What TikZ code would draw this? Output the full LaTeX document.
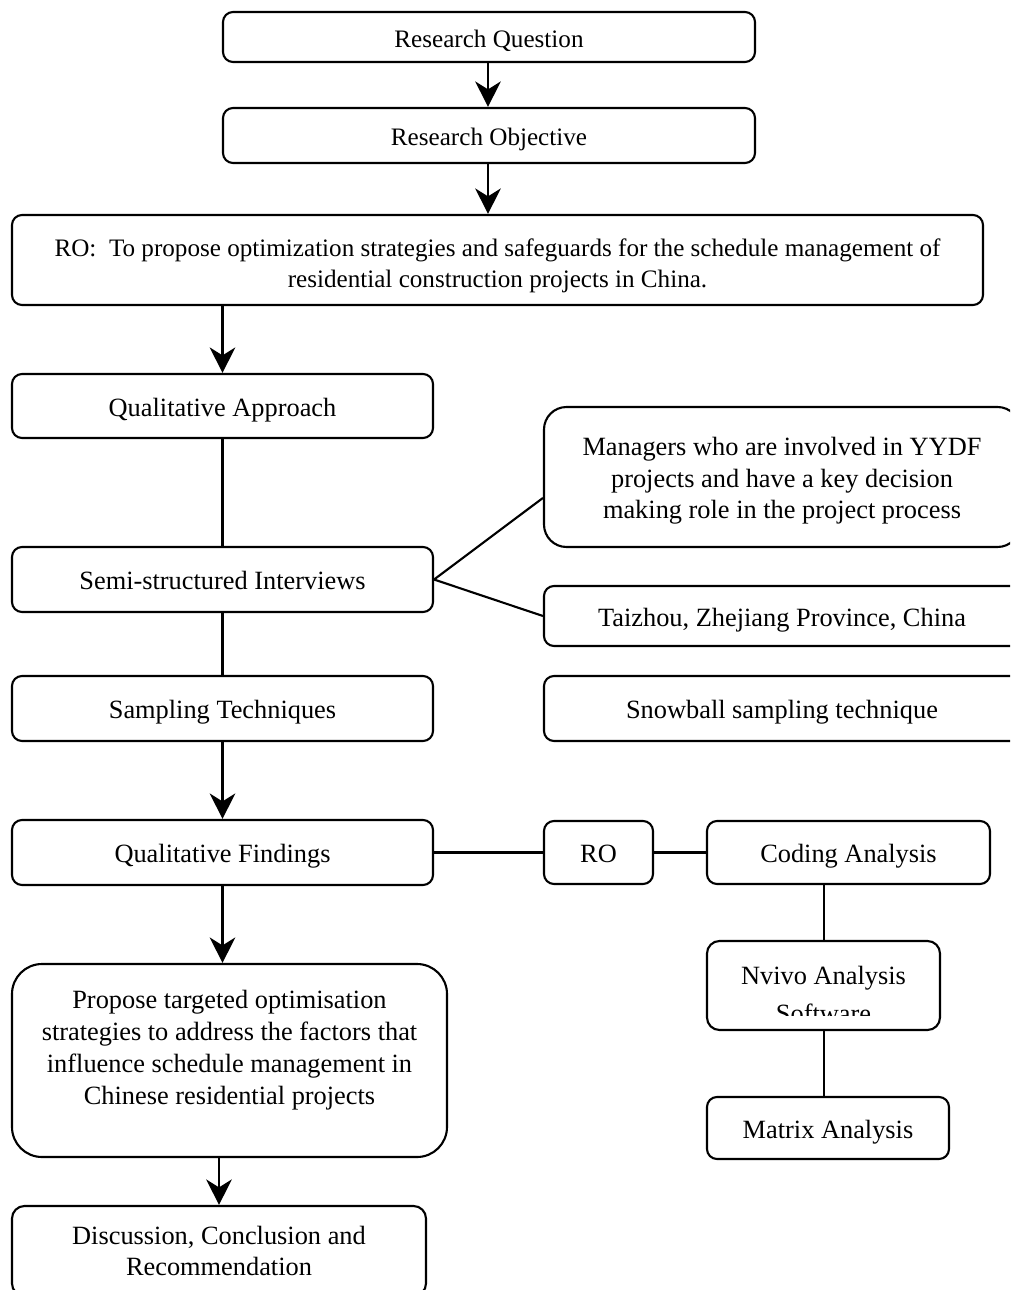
\documentclass[tikz,border=0pt]{standalone}
\usepackage{fontspec}
\setmainfont{Liberation Serif}
\usetikzlibrary{arrows.meta,calc}
\definecolor{boxline}{HTML}{000000}

\begin{document}
\begin{tikzpicture}[>={Stealth[length=14.5pt,width=14.5pt,inset=4.5pt]},
 box/.style={draw=boxline,line width=1.2pt,rounded corners=0.2cm,align=center,inner sep=0pt,
  font=\fontsize{15}{18.1}\selectfont},
 oneline/.style={box,text height=15pt,text depth=3.5pt},
 topbox/.style={oneline,font=\fontsize{14.3}{18.1}\selectfont},
 link/.style={draw=boxline,line width=1.2pt},
 flow/.style={link,->}]
 \useasboundingbox (0,0) rectangle (20.2,-25.8);
 \clip (0,0) rectangle (20.2,-25.8);
 \node[topbox,minimum width=10.64cm,minimum height=1cm] (rq) at (9.78,-0.74) {Research Question};
 \node[topbox,minimum width=10.64cm,minimum height=1.1cm] (robj) at (9.78,-2.71) {Research Objective};
 \node[box,font=\fontsize{14.3}{18.1}\selectfont,text height=34.7pt,minimum width=19.42cm,minimum height=1.8cm] (ro) at (9.95,-5.2)
  {RO:\ \ To propose optimization strategies and safeguards for the schedule management of\\ residential construction projects in China.};
 \node[oneline,minimum width=8.42cm,minimum height=1.28cm] (qa) at (4.45,-8.12) {Qualitative Approach};
 \node[oneline,minimum width=8.42cm,minimum height=1.3cm] (ssi) at (4.45,-11.59) {Semi-structured Interviews};
 \node[oneline,minimum width=8.42cm,minimum height=1.3cm] (samp) at (4.45,-14.17) {Sampling Techniques};
 \node[oneline,minimum width=8.42cm,minimum height=1.3cm] (qf) at (4.45,-17.05) {Qualitative Findings};
 \node[box,rounded corners=0.6cm,text depth=15pt,minimum width=8.7cm,minimum height=3.86cm] (prop) at (4.59,-21.21)
  {Propose targeted optimisation\\ strategies to address the factors that\\ influence schedule management in\\ Chinese residential projects};
 \node[box,rounded corners=0.25cm,minimum width=8.28cm,minimum height=1.8cm] (disc) at (4.38,-25.02)
  {Discussion, Conclusion and\\ Recommendation};
 \node[box,rounded corners=0.45cm,text height=51pt,minimum width=9.52cm,minimum height=2.8cm] (mgr) at (15.64,-9.54)
  {Managers who are involved in YYDF\\ projects and have a key decision\\ making role in the project process};
 \node[oneline,minimum width=9.52cm,minimum height=1.2cm] (tz) at (15.64,-12.32) {Taizhou, Zhejiang Province, China};
 \node[oneline,minimum width=9.52cm,minimum height=1.3cm] (snow) at (15.64,-14.17) {Snowball sampling technique};
 \node[oneline,minimum width=2.18cm,minimum height=1.26cm] (rob) at (11.97,-17.05) {RO};
 \node[oneline,minimum width=5.66cm,minimum height=1.26cm] (cod) at (16.97,-17.05) {Coding Analysis};
 \node[box,rounded corners=0.25cm,minimum width=4.66cm,minimum height=1.78cm] (nv) at (16.47,-19.71) {};
 \begin{scope}
  \clip (nv.north west) rectangle (20.2,-20.3);
  \node[align=center,inner sep=0pt,font=\fontsize{15}{22.1}\selectfont] (nvtext) at (16.47,-19.89) {Nvivo Analysis\\ Software};
 \end{scope}
 \node[oneline,minimum width=4.84cm,minimum height=1.24cm] (mat) at (16.56,-22.56) {Matrix Analysis};
 \draw[flow] (rq.south -| 9.76,0) -- (robj.north -| 9.76,0);
 \draw[flow] (robj.south -| 9.76,0) -- (ro.north -| 9.76,0);
 \draw[flow] (ro.south -| qa.north) -- (qa.north);
 \draw[link] (qa) -- (ssi);
 \draw[link] (ssi) -- (samp);
 \draw[flow] (samp) -- (qf);
 \draw[flow] (qf.south) -- (qf.south |- prop.north);
 \draw[flow] (prop.south -| disc.north) -- (disc.north);
 \draw[link] (ssi.east) -- (mgr.185);
 \draw[link] (ssi.east) -- (tz.west);
 \draw[link] (qf) -- (rob);
 \draw[link] (rob) -- (cod);
 \draw[link] (nv.north -| 16.48,0) -- (cod.south -| 16.48,0);
 \draw[link] (nv.south -| 16.48,0) -- (mat.north -| 16.48,0);
\end{tikzpicture}
\end{document}
